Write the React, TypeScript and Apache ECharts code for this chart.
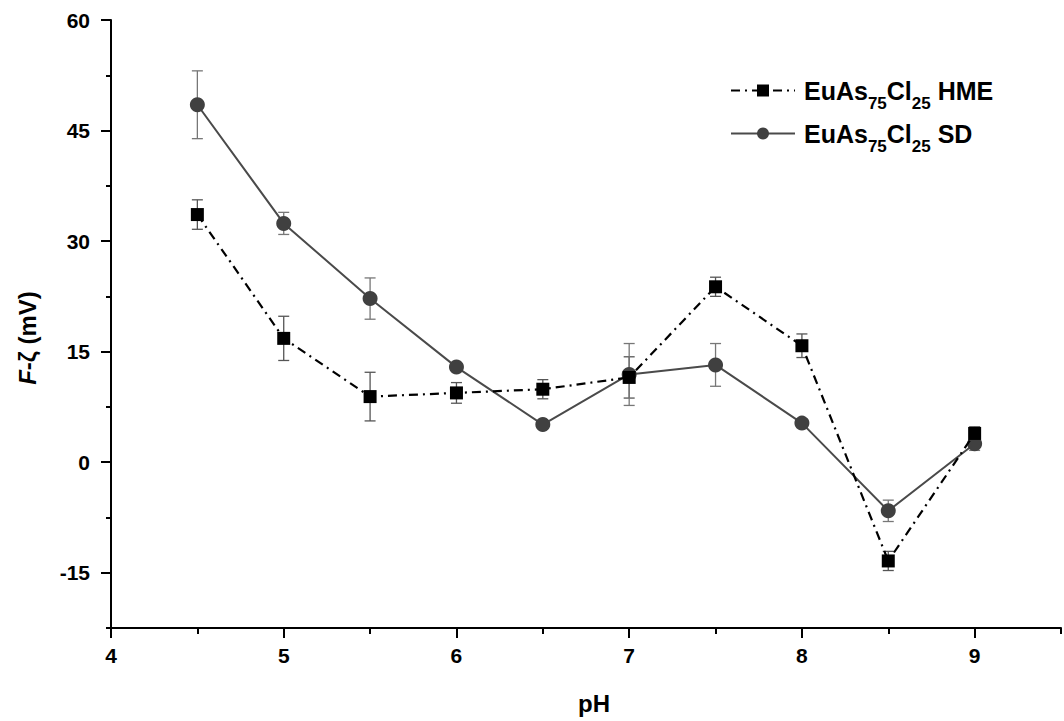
import React, { useEffect, useRef } from "react";
import * as echarts from "echarts";

// Zeta potential vs pH for the two EuAs75Cl25 preparations
const pHValues = [4.5, 5, 5.5, 6, 6.5, 7, 7.5, 8, 8.5, 9];
const hmeZeta = [33.6, 16.8, 8.9, 9.4, 9.9, 11.5, 23.8, 15.8, -13.4, 3.9];
const hmeErr = [2.0, 3.0, 3.3, 1.4, 1.3, 2.8, 1.3, 1.6, 1.3, 0.9];
const sdZeta = [48.5, 32.4, 22.2, 12.9, 5.1, 11.9, 13.2, 5.3, -6.6, 2.5];
const sdErr = [4.6, 1.5, 2.8, 0.6, 0.5, 4.2, 2.9, 0.6, 1.45, 0.9];

const xMajorTicks = [4, 5, 6, 7, 8, 9];
const yMajorTicks = [-15, 0, 15, 30, 45, 60];

const seriesNames = ["HME", "SD"];

const FONT = "'Liberation Sans', Arial, sans-serif";

// Subscripts are pushed down by top padding on their token.
const legendRich = {
  a: { fontFamily: FONT, fontWeight: "bold", fontSize: 25, lineHeight: 28, color: "#000" },
  s: { fontFamily: FONT, fontWeight: "bold", fontSize: 17, lineHeight: 16, padding: [26, 0, 0, 0], color: "#000" },
};

// Tick label text style, applied through a rich token
const tickRich = {
  t: { fontFamily: FONT, fontWeight: "bold", fontSize: 21, lineHeight: 22, color: "#000" },
};

function errorBarRenderer(color: string) {
  return (params: any, api: any) => {
    const x = api.value(0);
    const y = api.value(1);
    const e = api.value(2);
    const hi = api.coord([x, y + e]);
    const lo = api.coord([x, y - e]);
    const w = 5.5;
    const style = { stroke: color, lineWidth: 1.3 };
    return {
      type: "group",
      children: [
        { type: "line", shape: { x1: hi[0], y1: hi[1], x2: lo[0], y2: lo[1] }, style },
        { type: "line", shape: { x1: hi[0] - w, y1: hi[1], x2: hi[0] + w, y2: hi[1] }, style },
        { type: "line", shape: { x1: lo[0] - w, y1: lo[1], x2: lo[0] + w, y2: lo[1] }, style },
      ],
    };
  };
}

export default function App() {
  const ref = useRef<HTMLDivElement>(null);

  useEffect(() => {
    if (!ref.current) return;
    const chart = echarts.init(ref.current, undefined, { renderer: "svg" });

    const hmeLine = pHValues.map((x, i) => [x, hmeZeta[i]]);
    const sdLine = pHValues.map((x, i) => [x, sdZeta[i]]);
    const hmeBars = pHValues.map((x, i) => [x, hmeZeta[i], hmeErr[i]]);
    const sdBars = pHValues.map((x, i) => [x, sdZeta[i], sdErr[i]]);

    const axisLineStyle = { color: "#000", width: 2 };

    chart.setOption({
      animation: false,
      backgroundColor: "#fff",
      grid: { left: 111, right: -18, top: 20, bottom: 93, containLabel: false },
      legend: {
        orient: "vertical",
        left: 725,
        top: 64,
        itemWidth: 64,
        itemHeight: 15,
        itemGap: 0,
        data: seriesNames,
        formatter: (name: string) => `{a|EuAs}{s|75}{a|Cl}{s|25}{a| ${name}}`,
        textStyle: { rich: legendRich, padding: [0, 0, 0, 4] },
      },
      xAxis: [
        {
          type: "value",
          min: 4,
          max: 9.5,
          interval: 0.5,
          position: "bottom",
          axisLine: { show: true, onZero: false, lineStyle: axisLineStyle },
          axisTick: { show: true, inside: false, length: 6, lineStyle: { color: "#000", width: 2 } },
          axisLabel: {
            margin: 16,
            formatter: (v: number) => (Number.isInteger(v) ? `{t|${v}}` : ""),
            rich: tickRich,
          },
          splitLine: { show: false },
        },
        {
          type: "value",
          min: 4,
          max: 9.5,
          interval: 1,
          position: "bottom",
          axisLine: { show: false, onZero: false },
          axisTick: { show: true, length: 10, customValues: xMajorTicks, lineStyle: { color: "#000", width: 2 } },
          axisLabel: { show: false },
          splitLine: { show: false },
        },
      ],
      yAxis: [
        {
          type: "value",
          min: -22.5,
          max: 60,
          interval: 7.5,
          position: "left",
          axisLine: { show: true, onZero: false, lineStyle: axisLineStyle },
          axisTick: { show: true, length: 5, lineStyle: { color: "#000", width: 2 } },
          axisLabel: {
            margin: 21,
            formatter: (v: number) => (Math.abs(v % 15) < 1e-9 ? `{t|${v}}` : ""),
            rich: tickRich,
          },
          splitLine: { show: false },
        },
        {
          type: "value",
          min: -22.5,
          max: 60,
          position: "left",
          axisLine: { show: false, onZero: false },
          axisTick: { show: true, length: 10, customValues: yMajorTicks, lineStyle: { color: "#000", width: 2 } },
          axisLabel: { show: false },
          splitLine: { show: false },
        },
      ],
      graphic: [
        {
          type: "text",
          x: 27,
          y: 338,
          rotation: Math.PI / 2,
          style: {
            text: "{i|F}{n|-ζ (mV)}",
            align: "center",
            verticalAlign: "middle",
            rich: {
              i: { fontFamily: FONT, fontWeight: "bold", fontStyle: "italic", fontSize: 24, fill: "#000" },
              n: { fontFamily: FONT, fontWeight: "bold", fontSize: 24, fill: "#000" },
            },
          },
        },
        {
          type: "text",
          x: 594,
          y: 703,
          style: {
            text: "pH",
            align: "center",
            verticalAlign: "middle",
            fontFamily: FONT,
            fontWeight: "bold",
            fontSize: 24,
            fill: "#000",
          },
        },
      ],
      series: [
        {
          type: "custom",
          xAxisIndex: 0,
          yAxisIndex: 0,
          data: hmeBars,
          encode: { x: 0, y: 1 },
          renderItem: errorBarRenderer("#555"),
          z: 1,
          silent: true,
        },
        {
          type: "custom",
          xAxisIndex: 0,
          yAxisIndex: 0,
          data: sdBars,
          encode: { x: 0, y: 1 },
          renderItem: errorBarRenderer("#777"),
          z: 1,
          silent: true,
        },
        {
          name: "HME",
          type: "line",
          xAxisIndex: 0,
          yAxisIndex: 0,
          data: hmeLine,
          symbol: "rect",
          symbolSize: 13,
          lineStyle: { color: "#000", width: 2.2, type: [9, 5, 2, 5] },
          itemStyle: { color: "#000" },
          z: 3,
        },
        {
          name: "SD",
          type: "line",
          xAxisIndex: 0,
          yAxisIndex: 0,
          data: sdLine,
          symbol: "circle",
          symbolSize: 15,
          lineStyle: { color: "#4a4a4a", width: 2 },
          itemStyle: { color: "#404040" },
          z: 2,
        },
      ],
    });

    return () => chart.dispose();
  }, []);

  return (
    <div
      ref={ref}
      style={{ position: "absolute", left: 0, top: 0, width: 1064, height: 721, background: "#fff" }}
    />
  );
}
